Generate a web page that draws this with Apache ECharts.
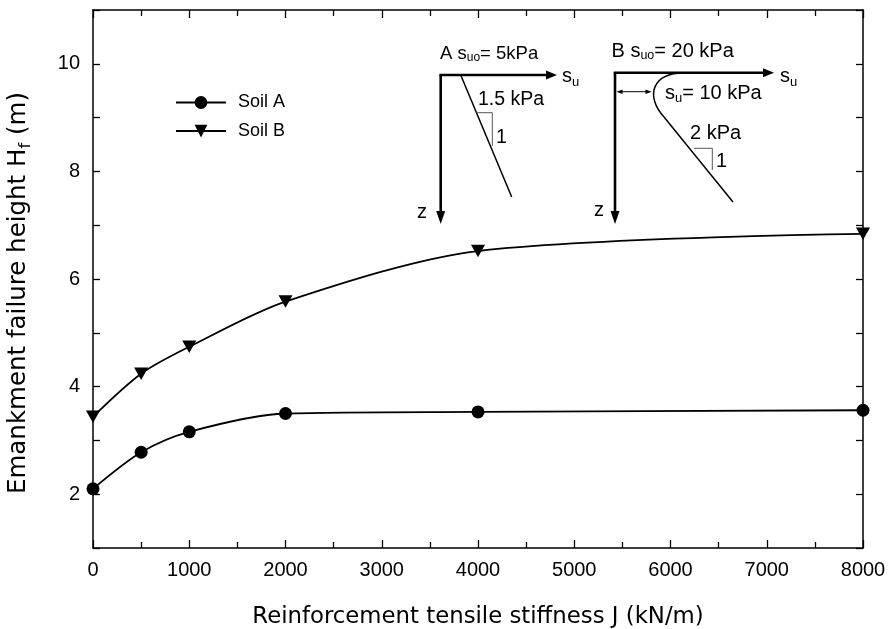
<!DOCTYPE html>
<html>
<head>
<meta charset="utf-8">
<script src="https://cdn.jsdelivr.net/npm/echarts@6/dist/echarts.min.js"></script>
<style>
  html, body { margin: 0; padding: 0; background: #fff; }
  #chart { width: 895px; height: 629px; }
</style>
</head>
<body>
<div id="chart"></div>
<script>
// Reinforcement tensile stiffness J (kN/m)
const stiffness = [0, 500, 1000, 2000, 4000, 8000];
// Embankment failure height Hf (m)
const soilA = [2.1, 2.78, 3.16, 3.5, 3.53, 3.56];
const soilB = [3.44, 4.24, 4.74, 5.58, 6.52, 6.84];
// Labelled ticks on the height axis
const heightLabels = [2, 4, 6, 8, 10];

const FONT = '"Liberation Sans", Arial, Helvetica, sans-serif';
const TITLE_FONT = '"DejaVu Sans", Verdana, sans-serif';
const INK = '#000';

const pairs = ys => stiffness.map((x, i) => [x, ys[i]]);

const tickLine = { color: INK, width: 1.3 };
const axisLine = { show: true, onZero: false, lineStyle: { color: INK, width: 1.5 } };

function xAxisDef(pos, withLabels) {
  return {
    type: 'value', position: pos, min: 0, max: 8000, interval: 1000,
    axisLine: axisLine,
    axisTick: { show: true, inside: true, length: 8, lineStyle: tickLine },
    minorTick: { show: true, splitNumber: 2, length: 6, lineStyle: tickLine },
    splitLine: { show: false },
    axisLabel: withLabels
      ? { show: true, color: INK, fontSize: 20, fontFamily: FONT, margin: 12, formatter: v => String(v) }
      : { show: false }
  };
}

function yAxisDef(pos, withLabels) {
  return {
    type: 'value', position: pos, min: 1, max: 11, interval: 1,
    axisLine: axisLine,
    axisTick: { show: true, inside: true, length: 7, lineStyle: tickLine },
    splitLine: { show: false },
    axisLabel: withLabels
      ? {
          show: true, color: INK, fontSize: 20, fontFamily: FONT, margin: 13,
          formatter: v => (heightLabels.includes(v) ? String(v) : '')
        }
      : { show: false }
  };
}

// Text element for the soil-profile sketches; {s|..} marks a subscript
function label(x, y, text, size, subSize, subDrop) {
  return {
    type: 'text', x: x, y: y, silent: true, z: 10,
    style: {
      text: text, fill: INK, fontSize: size, fontFamily: FONT,
      align: 'left', verticalAlign: 'middle',
      rich: {
        s: { fontSize: subSize || 12, fontFamily: FONT, fill: INK, padding: [subDrop || 7, 0, 0, 0] }
      }
    }
  };
}
function seg(x1, y1, x2, y2, w, color) {
  return {
    type: 'line', silent: true, z: 10,
    shape: { x1: x1, y1: y1, x2: x2, y2: y2 },
    style: { stroke: color || INK, lineWidth: w }
  };
}
function tri(points) {
  return { type: 'polygon', silent: true, z: 10, shape: { points: points }, style: { fill: INK } };
}
function bracket(points) {
  return {
    type: 'polyline', silent: true, z: 10, shape: { points: points },
    style: { stroke: '#555', lineWidth: 1, fill: null }
  };
}

const sketches = [
  // Profile A: linear strength increase from the surface
  label(440, 53.5, 'A s{s|uo}= 5kPa', 18.5, 12, 8),
  seg(440.7, 75, 440.7, 212, 2.6),
  tri([[436.2, 211], [445.2, 211], [440.7, 224]]),
  seg(439.4, 75, 547, 75, 2.6),
  tri([[546, 70.5], [546, 79.5], [557, 75]]),
  label(562, 76.5, 's{s|u}', 20, 13, 12),
  label(417, 212, 'z', 20),
  seg(460.7, 75, 511.7, 197, 1.5),
  bracket([[476.5, 112.7], [492.3, 112.7], [492.3, 146]]),
  label(478, 100, '1.5 kPa', 19.5),
  label(496, 137.5, '1', 19.5),

  // Profile B: crust over a linearly increasing layer
  label(611.5, 51.5, 'B s{s|uo}= 20 kPa', 20, 12.5, 8),
  seg(615, 72.7, 615, 212, 2.6),
  tri([[610.5, 211], [619.5, 211], [615, 224]]),
  seg(613.7, 72.7, 764, 72.7, 2.6),
  tri([[763, 68.2], [763, 77.2], [774, 72.7]]),
  label(780, 76, 's{s|u}', 20, 13, 12),
  label(594, 210, 'z', 20),
  {
    type: 'bezierCurve', silent: true, z: 10,
    shape: { x1: 684, y1: 73, cpx1: 652, cpy1: 73, cpx2: 645, cpy2: 96, x2: 664, y2: 117 },
    style: { stroke: INK, lineWidth: 1.5, fill: null }
  },
  seg(664, 117, 733, 202, 1.5),
  seg(618, 91.7, 650, 91.7, 1),
  tri([[616.5, 91.7], [622.5, 89.4], [622.5, 94]]),
  tri([[651.5, 91.7], [645.5, 89.4], [645.5, 94]]),
  label(665, 93.5, 's{s|u}= 10 kPa', 20, 13, 10),
  bracket([[694, 148.3], [712.3, 148.3], [712.3, 170]]),
  label(690, 133.5, '2 kPa', 20),
  label(716, 161, '1', 20)
];

const chart = echarts.init(document.getElementById('chart'), null, { renderer: 'canvas' });
chart.setOption({
  backgroundColor: '#fff',
  animation: false,
  textStyle: { fontFamily: FONT, color: INK },
  grid: { left: 93, right: 32, top: 10, bottom: 81, containLabel: false, outerBoundsMode: 'none' },
  legend: {
    data: ['Soil A', 'Soil B'],
    orient: 'vertical', left: 170, top: 88.5,
    itemWidth: 50, itemHeight: 16, itemGap: 10.6,
    textStyle: { fontSize: 18, color: INK, fontFamily: FONT, padding: [0, 0, 0, 7] }
  },
  xAxis: [
    Object.assign(xAxisDef('bottom', true), {
      name: 'Reinforcement tensile stiffness J (kN/m)',
      nameLocation: 'middle', nameGap: 58,
      nameTextStyle: { fontSize: 22.8, color: INK, fontFamily: TITLE_FONT }
    }),
    xAxisDef('top', false)
  ],
  yAxis: [
    Object.assign(yAxisDef('left', true), {
      name: 'Emankment failure height H{s|f} (m)',
      nameLocation: 'middle', nameGap: 59,
      nameTextStyle: {
        fontSize: 24.5, color: INK, fontFamily: TITLE_FONT, padding: [0, 28, 0, 0],
        rich: { s: { fontSize: 16.5, color: INK, fontFamily: TITLE_FONT, padding: [14, 0, 0, 0] } }
      }
    }),
    yAxisDef('right', false)
  ],
  series: [
    {
      name: 'Soil A', type: 'line', data: pairs(soilA),
      smooth: 0.3,
      symbol: 'circle', symbolSize: 13,
      lineStyle: { color: INK, width: 1.8 },
      itemStyle: { color: INK, borderWidth: 0 },
      z: 3
    },
    {
      name: 'Soil B', type: 'line', data: pairs(soilB),
      smooth: 0.3,
      symbol: 'path://M0,0L14,0L7,12Z', symbolSize: [14, 12.5],
      lineStyle: { color: INK, width: 1.8 },
      itemStyle: { color: INK, borderWidth: 0 },
      z: 3
    }
  ],
  graphic: { elements: sketches }
});
</script>
</body>
</html>
